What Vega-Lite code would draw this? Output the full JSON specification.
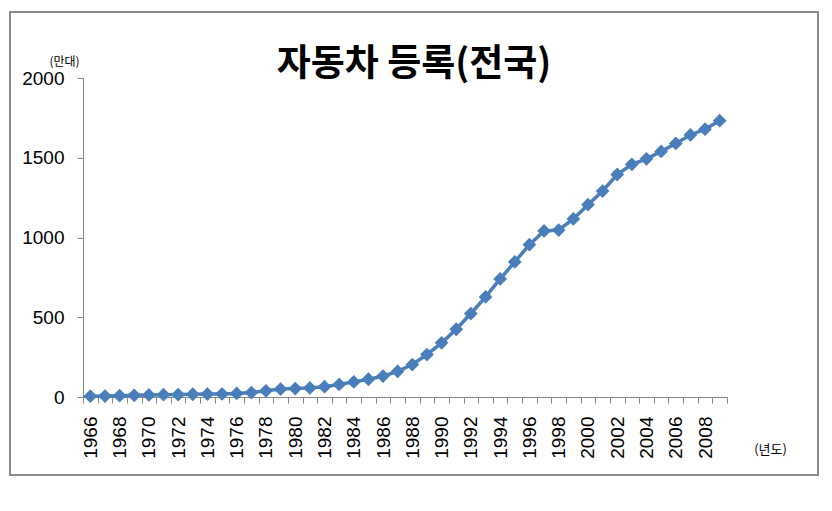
{
  "$schema": "https://vega.github.io/schema/vega-lite/v6.json",
  "autosize": "none",
  "padding": {"left": 10, "top": 12, "right": 14, "bottom": 36},
  "width": 808,
  "height": 463,
  "background": "white",
  "config": {
    "view": {"stroke": "#8a8a8a", "strokeWidth": 2},
    "font": "Liberation Sans"
  },
  "title": {
    "text": "자동차 등록(전국)",
    "font": "Noto Sans CJK KR",
    "fontSize": 37,
    "fontWeight": "bold",
    "color": "black",
    "anchor": "middle",
    "frame": "group",
    "baseline": "middle",
    "offset": -90
  },
  "data": {
    "values": [
      {"year": 1966, "cars": 5.0},
      {"year": 1967, "cars": 6.0},
      {"year": 1968, "cars": 8.5},
      {"year": 1969, "cars": 10.8},
      {"year": 1970, "cars": 12.9},
      {"year": 1971, "cars": 14.4},
      {"year": 1972, "cars": 15.2},
      {"year": 1973, "cars": 17.3},
      {"year": 1974, "cars": 18.4},
      {"year": 1975, "cars": 19.4},
      {"year": 1976, "cars": 22.7},
      {"year": 1977, "cars": 27.9},
      {"year": 1978, "cars": 38.6},
      {"year": 1979, "cars": 49.4},
      {"year": 1980, "cars": 52.8},
      {"year": 1981, "cars": 57.2},
      {"year": 1982, "cars": 64.7},
      {"year": 1983, "cars": 78.5},
      {"year": 1984, "cars": 94.8},
      {"year": 1985, "cars": 111.3},
      {"year": 1986, "cars": 130.9},
      {"year": 1987, "cars": 161.1},
      {"year": 1988, "cars": 203.5},
      {"year": 1989, "cars": 266.0},
      {"year": 1990, "cars": 339.5},
      {"year": 1991, "cars": 424.8},
      {"year": 1992, "cars": 523.1},
      {"year": 1993, "cars": 627.4},
      {"year": 1994, "cars": 740.4},
      {"year": 1995, "cars": 846.9},
      {"year": 1996, "cars": 955.3},
      {"year": 1997, "cars": 1041.3},
      {"year": 1998, "cars": 1046.9},
      {"year": 1999, "cars": 1116.4},
      {"year": 2000, "cars": 1205.9},
      {"year": 2001, "cars": 1291.4},
      {"year": 2002, "cars": 1394.9},
      {"year": 2003, "cars": 1458.7},
      {"year": 2004, "cars": 1493.4},
      {"year": 2005, "cars": 1539.7},
      {"year": 2006, "cars": 1589.5},
      {"year": 2007, "cars": 1642.8},
      {"year": 2008, "cars": 1679.4},
      {"year": 2009, "cars": 1732.5}
    ]
  },
  "mark": {
    "type": "line",
    "color": "#4A7EBB",
    "strokeWidth": 3.5,
    "point": {"shape": "diamond", "size": 190, "filled": true, "color": "#4A7EBB", "opacity": 1}
  },
  "encoding": {
    "x": {
      "field": "year",
      "type": "quantitative",
      "scale": {"domain": [1965.5, 2009.5], "range": [73, 717], "nice": false, "zero": false},
      "axis": {
        "values": [1965.5, 1966.5, 1967.5, 1968.5, 1969.5, 1970.5, 1971.5, 1972.5, 1973.5, 1974.5, 1975.5, 1976.5, 1977.5, 1978.5, 1979.5, 1980.5, 1981.5, 1982.5, 1983.5, 1984.5, 1985.5, 1986.5, 1987.5, 1988.5, 1989.5, 1990.5, 1991.5, 1992.5, 1993.5, 1994.5, 1995.5, 1996.5, 1997.5, 1998.5, 1999.5, 2000.5, 2001.5, 2002.5, 2003.5, 2004.5, 2005.5, 2006.5, 2007.5, 2008.5, 2009.5],
        "offset": -78,
        "grid": false,
        "domainColor": "#868686",
        "domainWidth": 1,
        "tickColor": "#868686",
        "tickSize": 6,
        "labelAngle": 270,
        "labelAlign": "right",
        "labelBaseline": "middle",
        "labelOffset": 7.32,
        "labelPadding": 13,
        "labelFontSize": 19,
        "labelColor": "black",
        "labelOverlap": false,
        "labelBound": false,
        "labelFlush": false,
        "labelExpr": "(datum.value + 0.5) % 2 == 0 && datum.value < 2009 ? format(datum.value + 0.5, 'd') : ''",
        "title": "(년도)",
        "titleFont": "Noto Sans CJK KR",
        "titleFontSize": 13,
        "titleFontWeight": "normal",
        "titleColor": "black",
        "titleX": 760,
        "titleY": 52,
        "titleAlign": "center",
        "titleBaseline": "middle",
        "titleAngle": 0
      }
    },
    "y": {
      "field": "cars",
      "type": "quantitative",
      "scale": {"domain": [0, 2000], "range": [385, 66], "nice": false, "zero": true},
      "axis": {
        "values": [0, 500, 1000, 1500, 2000],
        "format": "d",
        "offset": -73,
        "grid": false,
        "domainColor": "#868686",
        "domainWidth": 1,
        "tickColor": "#868686",
        "tickSize": 6,
        "labelPadding": 13,
        "labelFontSize": 19,
        "labelColor": "black",
        "labelOverlap": false,
        "labelBound": false,
        "labelFlush": false,
        "title": "(만대)",
        "titleFont": "Noto Sans CJK KR",
        "titleFontSize": 12,
        "titleFontWeight": "normal",
        "titleColor": "black",
        "titleX": -19,
        "titleY": 49,
        "titleAlign": "center",
        "titleBaseline": "middle",
        "titleAngle": 0
      }
    }
  }
}
